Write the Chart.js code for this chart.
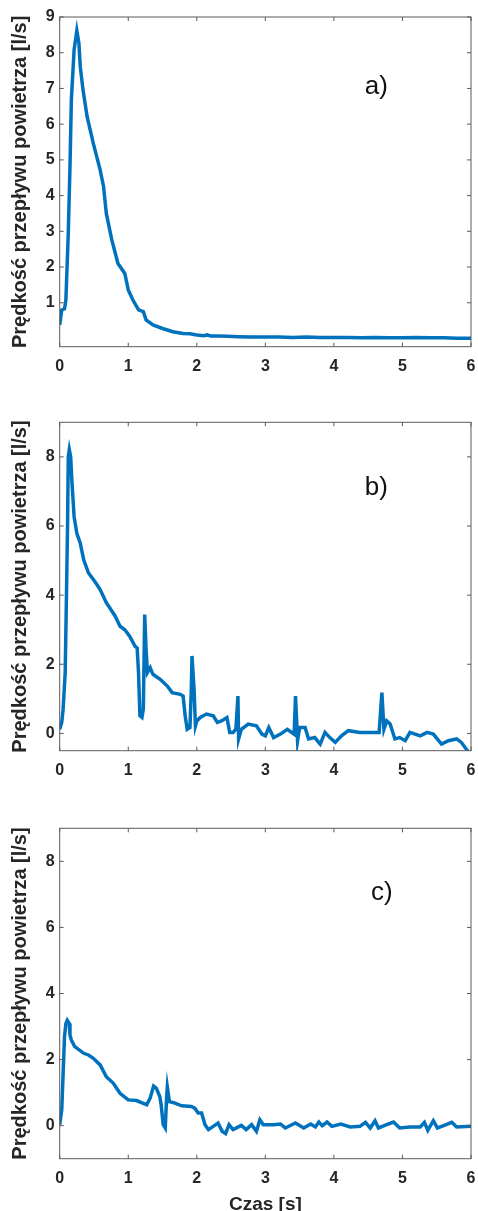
<!DOCTYPE html>
<html>
<head>
<meta charset="utf-8">
<script src="https://cdn.jsdelivr.net/npm/chart.js@4"></script>
<style>
  html, body { margin: 0; padding: 0; background: #fff; overflow: hidden; }
  body { width: 478px; height: 1211px; position: relative; }
  .panel { position: absolute; left: 0; width: 478px; }
</style>
</head>
<body>
<div class="panel" style="top:0px"><canvas id="wykresA" width="478" height="390"></canvas></div>
<div class="panel" style="top:390px"><canvas id="wykresB" width="478" height="400"></canvas></div>
<div class="panel" style="top:790px"><canvas id="wykresC" width="478" height="440"></canvas></div>
<script>
// czas [s] i prędkość przepływu [l/s]
const tA = [0, 0.03, 0.07, 0.09, 0.125, 0.15, 0.17, 0.21, 0.25, 0.28, 0.30, 0.34, 0.40, 0.49, 0.59, 0.64, 0.68, 0.76, 0.85, 0.95, 1.00, 1.07, 1.15, 1.22, 1.26, 1.36, 1.50, 1.65, 1.80, 1.90, 2.00, 2.10, 2.15, 2.20, 2.30, 2.45, 2.60, 2.80, 3.00, 3.20, 3.40, 3.60, 3.80, 4.00, 4.20, 4.40, 4.60, 4.80, 5.00, 5.20, 5.40, 5.60, 5.80, 6.00];
const vA = [0.38, 0.80, 0.83, 1.07, 2.94, 4.81, 6.68, 8.08, 8.62, 8.27, 7.61, 6.96, 6.21, 5.46, 4.72, 4.25, 3.50, 2.76, 2.10, 1.82, 1.36, 1.07, 0.80, 0.75, 0.52, 0.38, 0.28, 0.19, 0.14, 0.13, 0.10, 0.08, 0.10, 0.07, 0.07, 0.06, 0.05, 0.04, 0.04, 0.04, 0.03, 0.04, 0.03, 0.03, 0.03, 0.02, 0.03, 0.02, 0.02, 0.03, 0.02, 0.02, 0.01, 0.01];

const tB = [0, 0.03, 0.05, 0.08, 0.10, 0.115, 0.125, 0.14, 0.16, 0.18, 0.21, 0.25, 0.30, 0.35, 0.42, 0.51, 0.59, 0.68, 0.81, 0.88, 0.95, 1.02, 1.10, 1.13, 1.15, 1.17, 1.20, 1.22, 1.24, 1.26, 1.28, 1.32, 1.36, 1.47, 1.57, 1.64, 1.76, 1.80, 1.83, 1.86, 1.90, 1.92, 1.93, 1.96, 1.98, 2.00, 2.05, 2.14, 2.24, 2.30, 2.36, 2.44, 2.48, 2.53, 2.57, 2.60, 2.61, 2.65, 2.75, 2.87, 2.95, 3.00, 3.05, 3.12, 3.22, 3.32, 3.42, 3.44, 3.47, 3.50, 3.58, 3.63, 3.72, 3.80, 3.87, 3.94, 4.02, 4.11, 4.21, 4.38, 4.66, 4.70, 4.73, 4.77, 4.82, 4.89, 4.96, 5.04, 5.11, 5.26, 5.36, 5.45, 5.57, 5.67, 5.79, 5.86, 5.93, 5.97];
const vB = [0.12, 0.32, 0.70, 1.76, 4.16, 6.08, 8.00, 8.21, 8.00, 7.23, 6.27, 5.79, 5.50, 5.02, 4.64, 4.40, 4.16, 3.78, 3.39, 3.10, 3.00, 2.81, 2.52, 2.47, 1.76, 0.51, 0.46, 0.70, 3.44, 2.43, 1.76, 1.90, 1.71, 1.56, 1.37, 1.18, 1.13, 1.08, 0.51, 0.12, 0.17, 1.28, 2.24, 1.28, 0.22, 0.36, 0.46, 0.56, 0.51, 0.32, 0.36, 0.46, 0.03, 0.03, 0.12, 1.08, -0.16, 0.12, 0.27, 0.22, -0.02, -0.07, 0.17, -0.12, -0.02, 0.12, -0.02, 1.08, -0.21, 0.17, 0.17, -0.16, -0.12, -0.31, 0.03, -0.12, -0.26, -0.07, 0.08, 0.03, 0.03, 1.18, 0.12, 0.36, 0.27, -0.16, -0.12, -0.21, 0.03, -0.07, 0.03, -0.02, -0.31, -0.21, -0.16, -0.26, -0.45, -0.55];

const tC = [0, 0.03, 0.05, 0.07, 0.09, 0.11, 0.14, 0.15, 0.17, 0.22, 0.35, 0.42, 0.49, 0.59, 0.68, 0.78, 0.88, 1.00, 1.12, 1.27, 1.32, 1.37, 1.41, 1.46, 1.48, 1.51, 1.54, 1.56, 1.57, 1.60, 1.68, 1.78, 1.92, 1.97, 2.02, 2.07, 2.12, 2.17, 2.24, 2.31, 2.37, 2.42, 2.47, 2.53, 2.65, 2.72, 2.80, 2.87, 2.92, 2.97, 3.12, 3.22, 3.29, 3.44, 3.56, 3.66, 3.73, 3.78, 3.83, 3.90, 3.97, 4.10, 4.24, 4.38, 4.46, 4.53, 4.60, 4.65, 4.77, 4.87, 4.96, 5.11, 5.26, 5.32, 5.37, 5.45, 5.51, 5.60, 5.72, 5.79, 6.00];
const vC = [0.03, 0.48, 1.59, 2.69, 3.09, 3.19, 3.09, 2.74, 2.59, 2.39, 2.19, 2.14, 2.04, 1.84, 1.48, 1.29, 0.98, 0.78, 0.76, 0.63, 0.84, 1.20, 1.13, 0.88, 0.63, 0.03, -0.07, 0.88, 1.17, 0.73, 0.68, 0.60, 0.58, 0.53, 0.38, 0.38, 0.03, -0.12, -0.02, 0.08, -0.17, -0.24, 0.03, -0.12, 0.01, -0.12, 0.03, -0.17, 0.18, 0.03, 0.03, 0.05, -0.07, 0.08, -0.07, 0.05, -0.04, 0.11, 0.00, 0.11, -0.02, 0.05, -0.04, -0.02, 0.10, -0.07, 0.15, -0.07, 0.03, 0.11, -0.07, -0.04, -0.04, 0.10, -0.14, 0.15, -0.07, 0.00, 0.10, -0.04, -0.02];

const xTicks = [0, 1, 2, 3, 4, 5, 6];
const yTicksA = [1, 2, 3, 4, 5, 6, 7, 8, 9];
const yTicksBC = [0, 2, 4, 6, 8];

const FONT = '"Liberation Sans", Arial, sans-serif';
const NIEBIESKI = '#0072BD';

// ramka osi z krótkimi kreskami do środka (jak w MATLAB) + etykieta panelu
const ramkaPlugin = {
  id: 'ramka',
  afterDraw(chart, args, opts) {
    const ctx = chart.ctx;
    const a = chart.chartArea;
    const sx = chart.scales.x, sy = chart.scales.y;
    const L = 4;
    ctx.save();
    ctx.strokeStyle = '#5a5a5a';
    ctx.lineWidth = 1;
    ctx.strokeRect(a.left, a.top, a.right - a.left, a.bottom - a.top);
    ctx.beginPath();
    sx.ticks.forEach(t => {
      const px = sx.getPixelForValue(t.value);
      ctx.moveTo(px, a.bottom); ctx.lineTo(px, a.bottom - L);
      ctx.moveTo(px, a.top); ctx.lineTo(px, a.top + L);
    });
    sy.ticks.forEach(t => {
      const py = sy.getPixelForValue(t.value);
      ctx.moveTo(a.left, py); ctx.lineTo(a.left + L, py);
      ctx.moveTo(a.right, py); ctx.lineTo(a.right - L, py);
    });
    ctx.stroke();
    ctx.fillStyle = '#111';
    ctx.font = '26px ' + FONT;
    ctx.textAlign = 'center';
    ctx.textBaseline = 'middle';
    ctx.fillText(opts.tekst, sx.getPixelForValue(opts.x), sy.getPixelForValue(opts.y));
    ctx.restore();
  }
};

function rysuj(id, t, v, cfg) {
  const ctx = document.getElementById(id).getContext('2d');
  return new Chart(ctx, {
    type: 'line',
    data: {
      datasets: [{
        data: t.map((x, i) => ({ x: x, y: v[i] })),
        borderColor: NIEBIESKI,
        borderWidth: 3.5,
        pointRadius: 0,
        tension: 0,
        fill: false
      }]
    },
    options: {
      responsive: false,
      animation: false,
      layout: { padding: { top: cfg.top, right: 7, left: 0, bottom: 0 } },
      plugins: {
        legend: { display: false },
        tooltip: { enabled: false },
        ramka: { tekst: cfg.etykieta, x: cfg.lx, y: cfg.ly }
      },
      scales: {
        x: {
          type: 'linear',
          min: 0, max: 6,
          afterBuildTicks: s => { s.ticks = xTicks.map(x => ({ value: x })); },
          afterFit: s => { s.height = cfg.dol; s.paddingLeft = 0; s.paddingRight = 0; },
          grid: { display: false, drawTicks: false },
          border: { display: false },
          ticks: { padding: 10, color: '#262626', font: { family: FONT, size: 16, weight: 'bold' } },
          title: cfg.tytulX ? {
            display: true, text: 'Czas [s]', color: '#262626',
            font: { family: FONT, size: 19, weight: 'bold', lineHeight: 1.2 },
            padding: { top: 0, bottom: 13.6 }
          } : { display: false }
        },
        y: {
          min: cfg.ymin, max: 9,
          afterBuildTicks: s => { s.ticks = cfg.yTicks.map(y => ({ value: y })); },
          afterFit: s => { s.width = 59.7; s.paddingTop = 0; s.paddingBottom = 0; },
          grid: { display: false, drawTicks: false },
          border: { display: false },
          ticks: { padding: 5, color: '#262626', font: { family: FONT, size: 16, weight: 'bold' } },
          title: {
            display: true, text: 'Prędkość przepływu powietrza [l/s]', color: '#262626',
            font: { family: FONT, size: 20, weight: 'bold', lineHeight: 1.2 },
            padding: { top: 8.5, bottom: 0 }
          }
        }
      }
    },
    plugins: [ramkaPlugin]
  });
}

rysuj('wykresA', tA, vA, { top: 17, dol: 43.3, ymin: -0.23, yTicks: yTicksA, etykieta: 'a)', lx: 4.62, ly: 7.04 });
rysuj('wykresB', tB, vB, { top: 32.3, dol: 39.3, ymin: -0.5, yTicks: yTicksBC, etykieta: 'b)', lx: 4.62, ly: 7.09 });
rysuj('wykresC', tC, vC, { top: 38.3, dol: 71.3, ymin: -1, yTicks: yTicksBC, etykieta: 'c)', lx: 4.70, ly: 7.06, tytulX: true });
</script>
</body>
</html>
